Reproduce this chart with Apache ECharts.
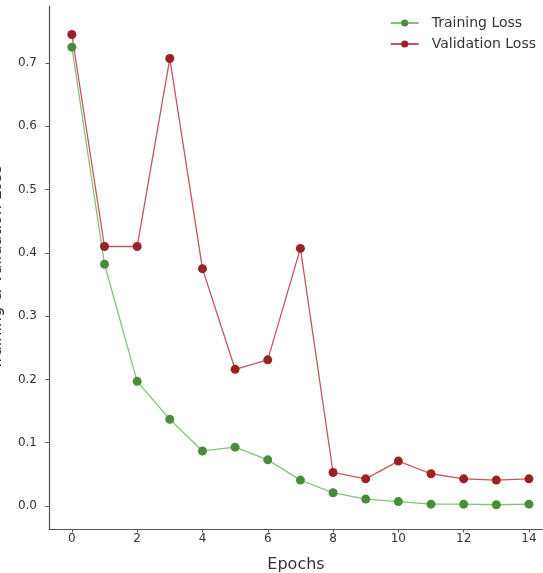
<!DOCTYPE html>
<html>
<head>
<meta charset="utf-8">
<script src="https://cdn.jsdelivr.net/npm/echarts@6/dist/echarts.min.js"></script>
<style>html,body{margin:0;padding:0;background:#fff;}#c{width:543px;height:573px;}</style>
</head>
<body>
<div id="c"></div>
<script>
const epochs = [0,1,2,3,4,5,6,7,8,9,10,11,12,13,14];
const trainingLoss = [0.725,0.382,0.197,0.137,0.087,0.093,0.073,0.041,0.021,0.011,0.007,0.003,0.003,0.002,0.003];
const validationLoss = [0.745,0.410,0.410,0.707,0.375,0.216,0.231,0.407,0.053,0.043,0.071,0.051,0.043,0.041,0.043];
const xTicks = [0,2,4,6,8,10,12,14];
const yTicks = [0,0.1,0.2,0.3,0.4,0.5,0.6,0.7];

const chart = echarts.init(document.getElementById('c'));
const fontFam = 'DejaVu Sans';
chart.setOption({
  animation: false,
  backgroundColor: '#ffffff',
  grid: {left: 49, top: 6, right: 0, bottom: 44, containLabel: false, outerBoundsMode: 'none'},
  legend: {
    orient: 'vertical', right: 2, top: 11, itemWidth: 28, itemHeight: 9, itemGap: 7,
    textStyle: {fontFamily: fontFam, fontSize: 14, color: '#333', padding: [0, 0, 0, 8]},
    data: ['Training Loss', 'Validation Loss']
  },
  xAxis: {
    type: 'value', min: -0.7, max: 14.43,
    name: 'Epochs', nameLocation: 'middle', nameGap: 28,
    nameTextStyle: {fontFamily: fontFam, fontSize: 16, color: '#333'},
    axisLine: {show: true, onZero: false, lineStyle: {color: '#555', width: 1.2}},
    axisTick: {show: true, customValues: xTicks, length: 3.5, lineStyle: {color: '#555'}},
    axisLabel: {customValues: xTicks, fontFamily: fontFam, fontSize: 12, color: '#333', margin: 4},
    splitLine: {show: false}
  },
  yAxis: {
    type: 'value', min: -0.0363, max: 0.79,
    name: 'Training & Validation Loss', nameLocation: 'middle', nameRotate: 90, nameGap: 44,
    nameTextStyle: {fontFamily: fontFam, fontSize: 16, color: '#333'},
    axisLine: {show: true, onZero: false, lineStyle: {color: '#555', width: 1.2}},
    axisTick: {show: true, customValues: yTicks, length: 3.5, lineStyle: {color: '#555'}},
    axisLabel: {customValues: yTicks, fontFamily: fontFam, fontSize: 12, color: '#333', margin: 12,
      formatter: v => v.toFixed(1)},
    splitLine: {show: false}
  },
  series: [
    {
      name: 'Training Loss', type: 'line',
      data: epochs.map((e,i) => [e, trainingLoss[i]]),
      symbol: 'circle', symbolSize: 9,
      itemStyle: {color: '#4b8b3e'},
      lineStyle: {color: '#82c47a', width: 1.3}
    },
    {
      name: 'Validation Loss', type: 'line',
      data: epochs.map((e,i) => [e, validationLoss[i]]),
      symbol: 'circle', symbolSize: 9,
      itemStyle: {color: '#9b2224'},
      lineStyle: {color: '#c45560', width: 1.3}
    }
  ]
});
</script>
</body>
</html>
